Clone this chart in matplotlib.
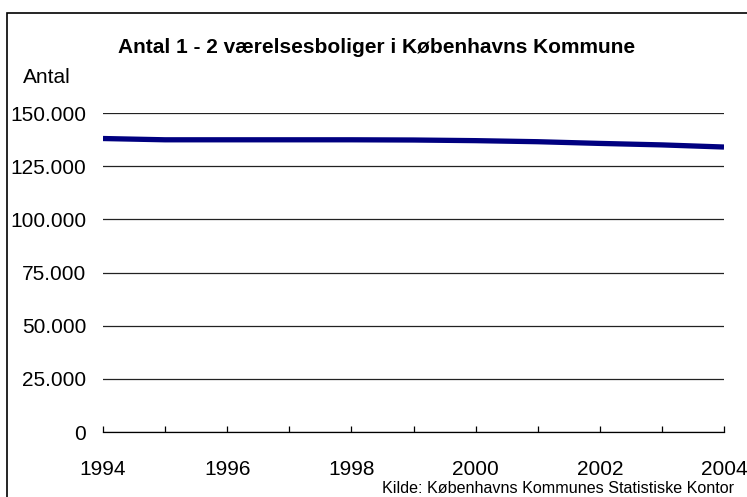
import matplotlib.pyplot as plt
from matplotlib.patches import Rectangle
from matplotlib.ticker import FuncFormatter, MultipleLocator

# --- DATA ---
years = [1994, 1995, 1996, 1997, 1998, 1999, 2000, 2001, 2002, 2003, 2004]
antal = [138000, 137400, 137400, 137400, 137400, 137300, 137000, 136500, 135700, 135000, 134000]

title = "Antal 1 - 2 værelsesboliger i Københavns Kommune"
ylabel = "Antal"
kilde = "Kilde: Københavns Kommunes Statistiske Kontor"

plt.rcParams['font.family'] = ['Liberation Sans', 'DejaVu Sans']

W, H = 747, 497
fig = plt.figure(figsize=(W / 100, H / 100), dpi=100)

# plot area in pixels: x 103..724, y 113..432
ax = fig.add_axes([103 / W, (H - 432) / H, (724 - 103) / W, (432 - 113) / H])

ax.plot(years, antal, color='#000080', lw=3.8, solid_capstyle='butt', zorder=3)

ax.set_xlim(1994, 2004)
ax.set_ylim(0, 150000)

# y-akse: gitterlinjer hver 25.000, dansk tusindtalsseparator
ax.yaxis.set_major_locator(MultipleLocator(25000))
ax.yaxis.set_major_formatter(FuncFormatter(lambda v, p: f"{v:,.0f}".replace(',', '.')))
ax.grid(axis='y', color='#222222', lw=0.9)
ax.tick_params(axis='y', length=0, pad=12, labelsize=15)

# x-akse: labels hvert andet år, streger hvert år
ax.xaxis.set_major_locator(MultipleLocator(2))
ax.xaxis.set_minor_locator(MultipleLocator(1))
ax.tick_params(axis='x', which='both', direction='in', length=4, width=0.9,
               color='black', pad=20, labelsize=15)

for s in ['top', 'right', 'left']:
    ax.spines[s].set_visible(False)
ax.spines['bottom'].set_linewidth(0.9)
ax.set_axisbelow(True)

fig.text(377 / W, (H - 53) / H, title, ha='center', va='baseline',
         fontsize=15, fontweight='bold')
fig.text(23 / W, (H - 83) / H, ylabel, ha='left', va='baseline', fontsize=15)
fig.text(382 / W, (H - 493) / H, kilde, ha='left', va='baseline', fontsize=11.6)

# ramme om hele diagrammet (kun venstre og top synlig)
fig.patches.append(Rectangle((7 / W, -0.1), 1.2, (H - 13) / H + 0.1,
                             transform=fig.transFigure, fill=False,
                             edgecolor='black', lw=1.2))

fig.savefig('out.png', dpi=100)
